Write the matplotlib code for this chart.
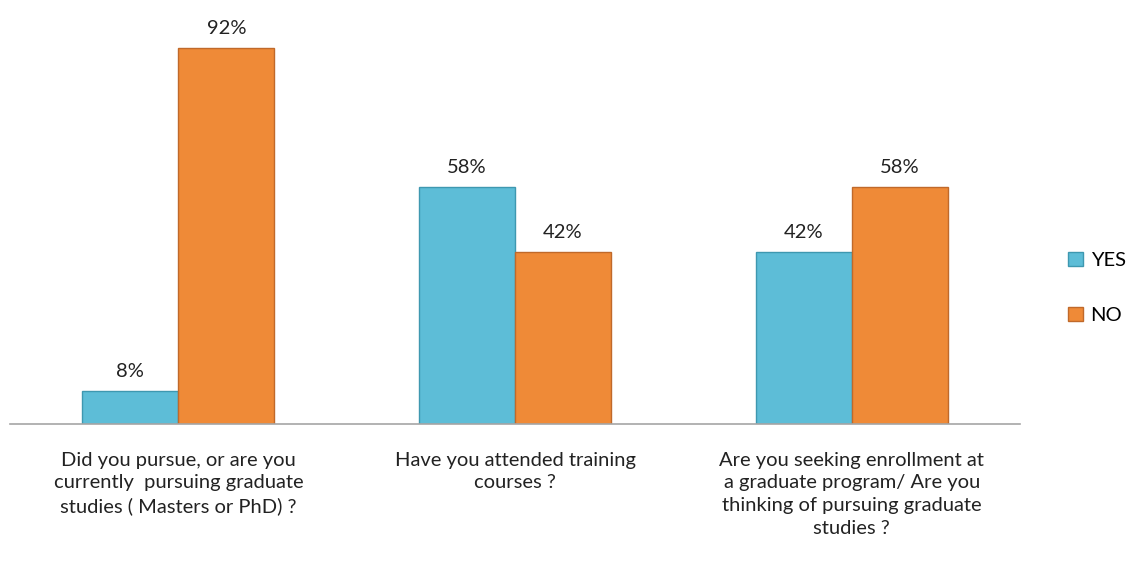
import numpy as np
import matplotlib.pyplot as plt

plt.rcParams['font.family'] = ['Lato', 'DejaVu Sans']

# DATA
questions = [
    'Did you pursue, or are you\ncurrently  pursuing graduate\nstudies ( Masters or PhD) ?',
    'Have you attended training\ncourses ?',
    'Are you seeking enrollment at\na graduate program/ Are you\nthinking of pursuing graduate\nstudies ?',
]
yes_vals = [8, 58, 42]
no_vals = [92, 42, 58]
series_names = ['YES', 'NO']

yes_color = '#5DBDD7'
no_color = '#EF8A37'

fig = plt.figure(figsize=(11.33, 5.69), dpi=100)
ax = fig.add_axes([0.0088, 0.2548, 0.8915, 0.7188])

x = np.arange(len(questions))
w = 0.285

b1 = ax.bar(x - w / 2, yes_vals, w, color=yes_color, edgecolor='#3E98B0',
            linewidth=1.0, label=series_names[0])
b2 = ax.bar(x + w / 2, no_vals, w, color=no_color, edgecolor='#C0692A',
            linewidth=1.0, label=series_names[1])

for bars in (b1, b2):
    for r in bars:
        h = r.get_height()
        ax.annotate(f'{h:g}%', (r.get_x() + r.get_width() / 2, h),
                    xytext=(0, 8), textcoords='offset points',
                    ha='center', va='bottom', fontsize=14.5, color='#222222')

ax.set_xlim(-0.5, 2.5)
ax.set_ylim(0, 100)
ax.set_yticks([])
ax.set_xticks(x)
ax.set_xticklabels(questions, fontsize=14.5, color='#222222', linespacing=1.4)
ax.tick_params(axis='x', length=0, pad=20)

for s in ['top', 'right', 'left']:
    ax.spines[s].set_visible(False)
ax.spines['bottom'].set_color('#A6A6A6')
ax.spines['bottom'].set_linewidth(1.2)

ax.legend(loc='center left', bbox_to_anchor=(1.03, 0.333), frameon=False,
          fontsize=14.5, handlelength=0.7, handleheight=0.7, handletextpad=0.4,
          labelspacing=1.9)

plt.savefig('out.png', dpi=100)
plt.close()
